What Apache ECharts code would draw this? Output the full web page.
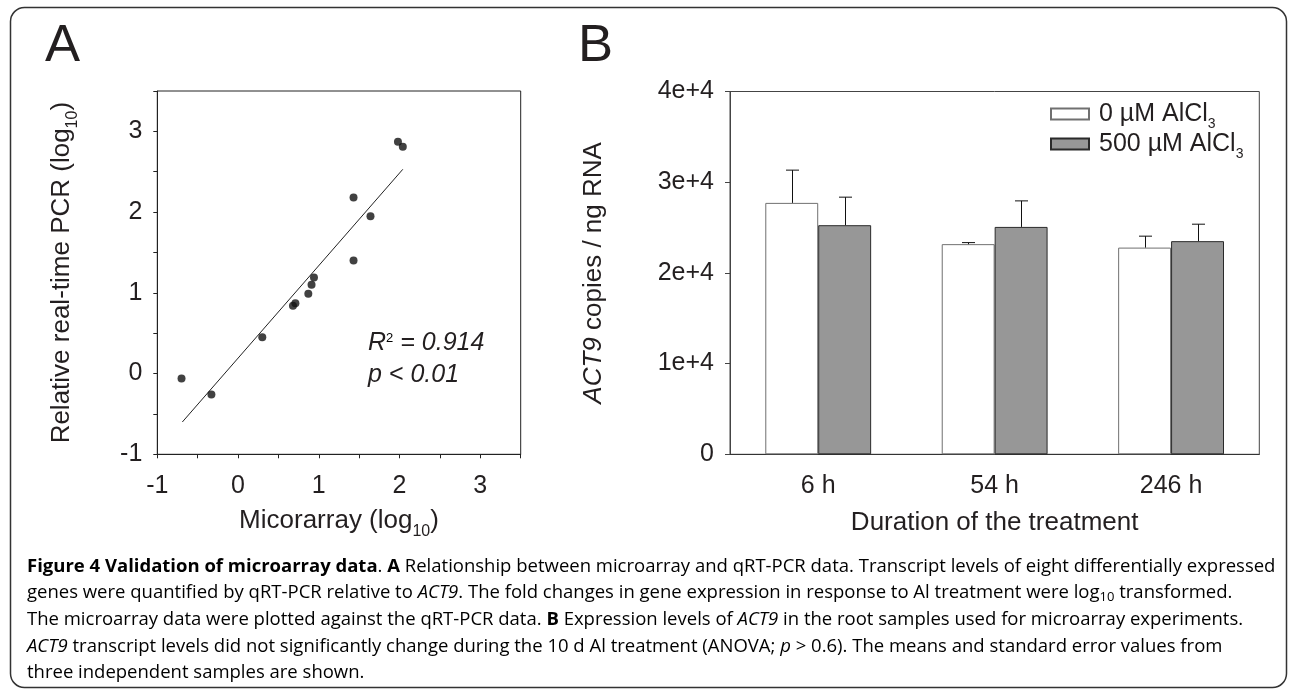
<!DOCTYPE html>
<html><head><meta charset="utf-8">
<script src="https://cdn.jsdelivr.net/npm/echarts@6/dist/echarts.min.js"></script>
<style>html,body{margin:0;padding:0;background:#fff}#c{width:1290px;height:691px}</style>
</head><body><div id="c"></div>
<script>
// ---- Panel A data ----
const microarrayX = [-0.70, -0.33, 0.30, 0.68, 0.71, 0.87, 0.91, 0.94, 1.43, 1.43, 1.64, 1.98, 2.04];
const qpcrY       = [-0.06, -0.26, 0.45, 0.84, 0.87, 0.99, 1.10, 1.19, 2.18, 1.40, 1.95, 2.87, 2.81];
const fitLineX = [-0.69, 2.04];
const fitLineY = [-0.60, 2.53];
const tickValuesA = [-1, 0, 1, 2, 3];
const tickLabelsA = ['-1', '0', '1', '2', '3'];
// ---- Panel B data ----
const hours = ['6 h', '54 h', '246 h'];
const ctrlMean = [27720, 23170, 22790];
const ctrlSE   = [3610, 170, 1260];
const alMean   = [25260, 25070, 23500];
const alSE     = [3090, 2870, 1870];
const seriesNames = ['0 µM AlCl3', '500 µM AlCl3'];
const tickValuesB = [0, 10000, 20000, 30000, 40000];
const tickLabelsB = ['0', '1e+4', '2e+4', '3e+4', '4e+4'];

const FONT = 'Liberation Sans, Arial, Helvetica, sans-serif';
const CAPFONT = 'Open Sans, Noto Sans, sans-serif';
const TXT = '#231f20';

function fmtFrom(vals, labels){
  return v => { const i = vals.indexOf(v); return i >= 0 ? labels[i] : ''; };
}
const subRich = {
  n: {fontSize: 26, fontFamily: FONT, color: TXT},
  i: {fontSize: 26, fontFamily: FONT, color: TXT, fontStyle: 'italic'},
  s: {fontSize: 16, lineHeight: 16, fontFamily: FONT, color: TXT, padding: [20, 0, 0, 0]}
};

function errRender(offsetFrac){
  return function(params, api){
    const x = api.value(0), m = api.value(1), se = api.value(2);
    const base = api.coord([x, m]);
    const top = api.coord([x, m + se]);
    const band = api.size([1, 0])[0];
    const cx = Math.round(base[0] + offsetFrac * band) + 0.5;
    const cap = 6.5;
    return {type: 'group', children: [
      {type: 'line', shape: {x1: cx, y1: base[1], x2: cx, y2: top[1]}, style: {stroke: '#111', lineWidth: 1}},
      {type: 'line', shape: {x1: cx - cap, y1: top[1], x2: cx + cap, y2: top[1]}, style: {stroke: '#111', lineWidth: 1}}
    ]};
  };
}

const CFS = 18.5;
const capRich = {
  n: {fontFamily: CAPFONT, fontSize: CFS, color: '#333'},
  b: {fontFamily: CAPFONT, fontSize: CFS, color: '#111', fontWeight: 'bold'},
  i: {fontFamily: CAPFONT, fontSize: CFS, color: '#333', fontStyle: 'italic'},
  s: {fontFamily: CAPFONT, fontSize: 13, lineHeight: 13, color: '#333', padding: [8, 0, 0, 0]}
};
const capLines = [
  '{b|Figure 4 Validation of microarray data}{n|. }{b|A}{n| Relationship between microarray and qRT-PCR data. Transcript levels of eight differentially expressed}',
  '{n|genes were quantified by qRT-PCR relative to }{i|ACT9}{n|. The fold changes in gene expression in response to Al treatment were log}{s|10}{n| transformed.}',
  '{n|The microarray data were plotted against the qRT-PCR data. }{b|B}{n| Expression levels of }{i|ACT9}{n| in the root samples used for microarray experiments.}',
  '{i|ACT9}{n| transcript levels did not significantly change during the 10 d Al treatment (ANOVA; }{i|p}{n| > 0.6). The means and standard error values from}',
  '{n|three independent samples are shown.}'
];
const capCenters = [566.4, 593, 619.7, 646.4, 672.7];

const graphics = [
  {type: 'rect', z: 0, shape: {x: 10.5, y: 7.5, width: 1276, height: 680, r: 14}, style: {fill: 'none', stroke: '#333', lineWidth: 1.5}},
  {type: 'text', x: 45, y: 46.4, style: {text: 'A', font: '52.6px ' + FONT, fill: TXT, verticalAlign: 'middle', align: 'left'}},
  {type: 'text', x: 578, y: 46.4, style: {text: 'B', font: '52.6px ' + FONT, fill: TXT, verticalAlign: 'middle', align: 'left'}},
  {type: 'text', x: 368, y: 343, style: {
    text: '{i|R}{p|2}{i| = 0.914}', verticalAlign: 'middle', align: 'left',
    rich: {i: {fontSize: 25, fontFamily: FONT, fontStyle: 'italic', fill: TXT, color: TXT},
           p: {fontSize: 13, lineHeight: 13, fontFamily: FONT, color: TXT, padding: [0, 0, 9, 0]}}}},
  {type: 'text', x: 368, y: 375.5, style: {text: 'p < 0.01', font: 'italic 25px ' + FONT, fill: TXT, verticalAlign: 'middle', align: 'left'}}
];
capLines.forEach((t, k) => {
  graphics.push({type: 'text', x: 27, y: capCenters[k], style: {text: t, rich: capRich, verticalAlign: 'middle', align: 'left'}});
});

const chart = echarts.init(document.getElementById('c'), null, {renderer: 'canvas'});
chart.setOption({
  animation: false,
  backgroundColor: '#fff',
  textStyle: {fontFamily: FONT, color: TXT},
  grid: [
    {left: 157.3, top: 91, width: 363.4, height: 363.3, show: true, borderColor: '#222', borderWidth: 1, backgroundColor: 'transparent'},
    {left: 730, top: 91.5, width: 529.3, height: 362.8, show: true, borderColor: '#444', borderWidth: 1, backgroundColor: 'transparent'}
  ],
  xAxis: [
    {gridIndex: 0, type: 'value', min: -1, max: 3.5, interval: 0.5,
     axisLine: {onZero: false, lineStyle: {color: '#222', width: 1}}, axisTick: {length: 4, lineStyle: {color: '#222'}},
     splitLine: {show: false},
     axisLabel: {fontSize: 25, color: TXT, margin: 19, formatter: fmtFrom(tickValuesA, tickLabelsA)},
     name: '{n|Micorarray (log}{s|10}{n|)}', nameLocation: 'middle', nameGap: 53,
     nameTextStyle: {rich: subRich}},
    {gridIndex: 1, type: 'category', data: hours, boundaryGap: true,
     axisLine: {onZero: false, lineStyle: {color: '#333', width: 1}},
     axisTick: {alignWithLabel: true, length: 5, lineStyle: {color: '#333'}},
     axisLabel: {fontSize: 25, color: TXT, margin: 19},
     name: 'Duration of the treatment', nameLocation: 'middle', nameGap: 56,
     nameTextStyle: {fontSize: 26, color: TXT}}
  ],
  yAxis: [
    {gridIndex: 0, type: 'value', min: -1, max: 3.5, interval: 0.5,
     axisLine: {show: true, onZero: false, lineStyle: {color: '#222', width: 1}}, axisTick: {show: true, length: 4, lineStyle: {color: '#222'}},
     splitLine: {show: false},
     axisLabel: {fontSize: 25, color: TXT, margin: 15, formatter: fmtFrom(tickValuesA, tickLabelsA)},
     name: '{n|Relative real-time PCR (log}{s|10}{n|)}', nameLocation: 'middle', nameGap: 82, nameRotate: 90,
     nameTextStyle: {rich: subRich}},
    {gridIndex: 1, type: 'value', min: 0, max: 40000, interval: 10000,
     axisLine: {show: true, onZero: false, lineStyle: {color: '#444', width: 1}}, axisTick: {show: true, length: 5, lineStyle: {color: '#444'}},
     splitLine: {show: false},
     axisLabel: {fontSize: 25, color: TXT, margin: 16, formatter: fmtFrom(tickValuesB, tickLabelsB)},
     name: '{i|ACT9}{n| copies / ng RNA}', nameLocation: 'middle', nameGap: 123, nameRotate: 90,
     nameTextStyle: {rich: subRich}}
  ],
  legend: {
    orient: 'vertical', left: 1045, top: 92, itemWidth: 38, itemHeight: 11, itemGap: -4,
    data: seriesNames, icon: 'rect', selectedMode: false,
    formatter: name => '{a|' + name.slice(0, -1) + '}{s|' + name.slice(-1) + '}',
    textStyle: {rich: {
      a: {fontSize: 25, fontFamily: FONT, color: TXT, padding: [0, 0, 0, 5]},
      s: {fontSize: 14, lineHeight: 14, fontFamily: FONT, color: TXT, padding: [20, 0, 0, 0]}
    }}
  },
  graphic: graphics,
  series: [
    {type: 'line', xAxisIndex: 0, yAxisIndex: 0, data: fitLineX.map((x, i) => [x, fitLineY[i]]),
     showSymbol: false, symbol: 'none', lineStyle: {color: '#222', width: 1}, z: 2, silent: true},
    {type: 'scatter', xAxisIndex: 0, yAxisIndex: 0, data: microarrayX.map((x, i) => [x, qpcrY[i]]),
     symbol: 'circle', symbolSize: 8, itemStyle: {color: '#111'}, z: 3},
    {name: seriesNames[0], type: 'bar', xAxisIndex: 1, yAxisIndex: 1, data: ctrlMean,
     barWidth: '30%', barGap: '0%', itemStyle: {color: '#ffffff', borderColor: '#707070', borderWidth: 1}},
    {name: seriesNames[1], type: 'bar', xAxisIndex: 1, yAxisIndex: 1, data: alMean,
     barWidth: '30%', barGap: '0%', itemStyle: {color: '#979797', borderColor: '#2a2a2a', borderWidth: 1}},
    {type: 'custom', xAxisIndex: 1, yAxisIndex: 1, z: 4, silent: true,
     data: hours.map((h, i) => [i, ctrlMean[i], ctrlSE[i]]), renderItem: errRender(-0.15)},
    {type: 'custom', xAxisIndex: 1, yAxisIndex: 1, z: 4, silent: true,
     data: hours.map((h, i) => [i, alMean[i], alSE[i]]), renderItem: errRender(0.15)}
  ]
});
</script></body></html>
